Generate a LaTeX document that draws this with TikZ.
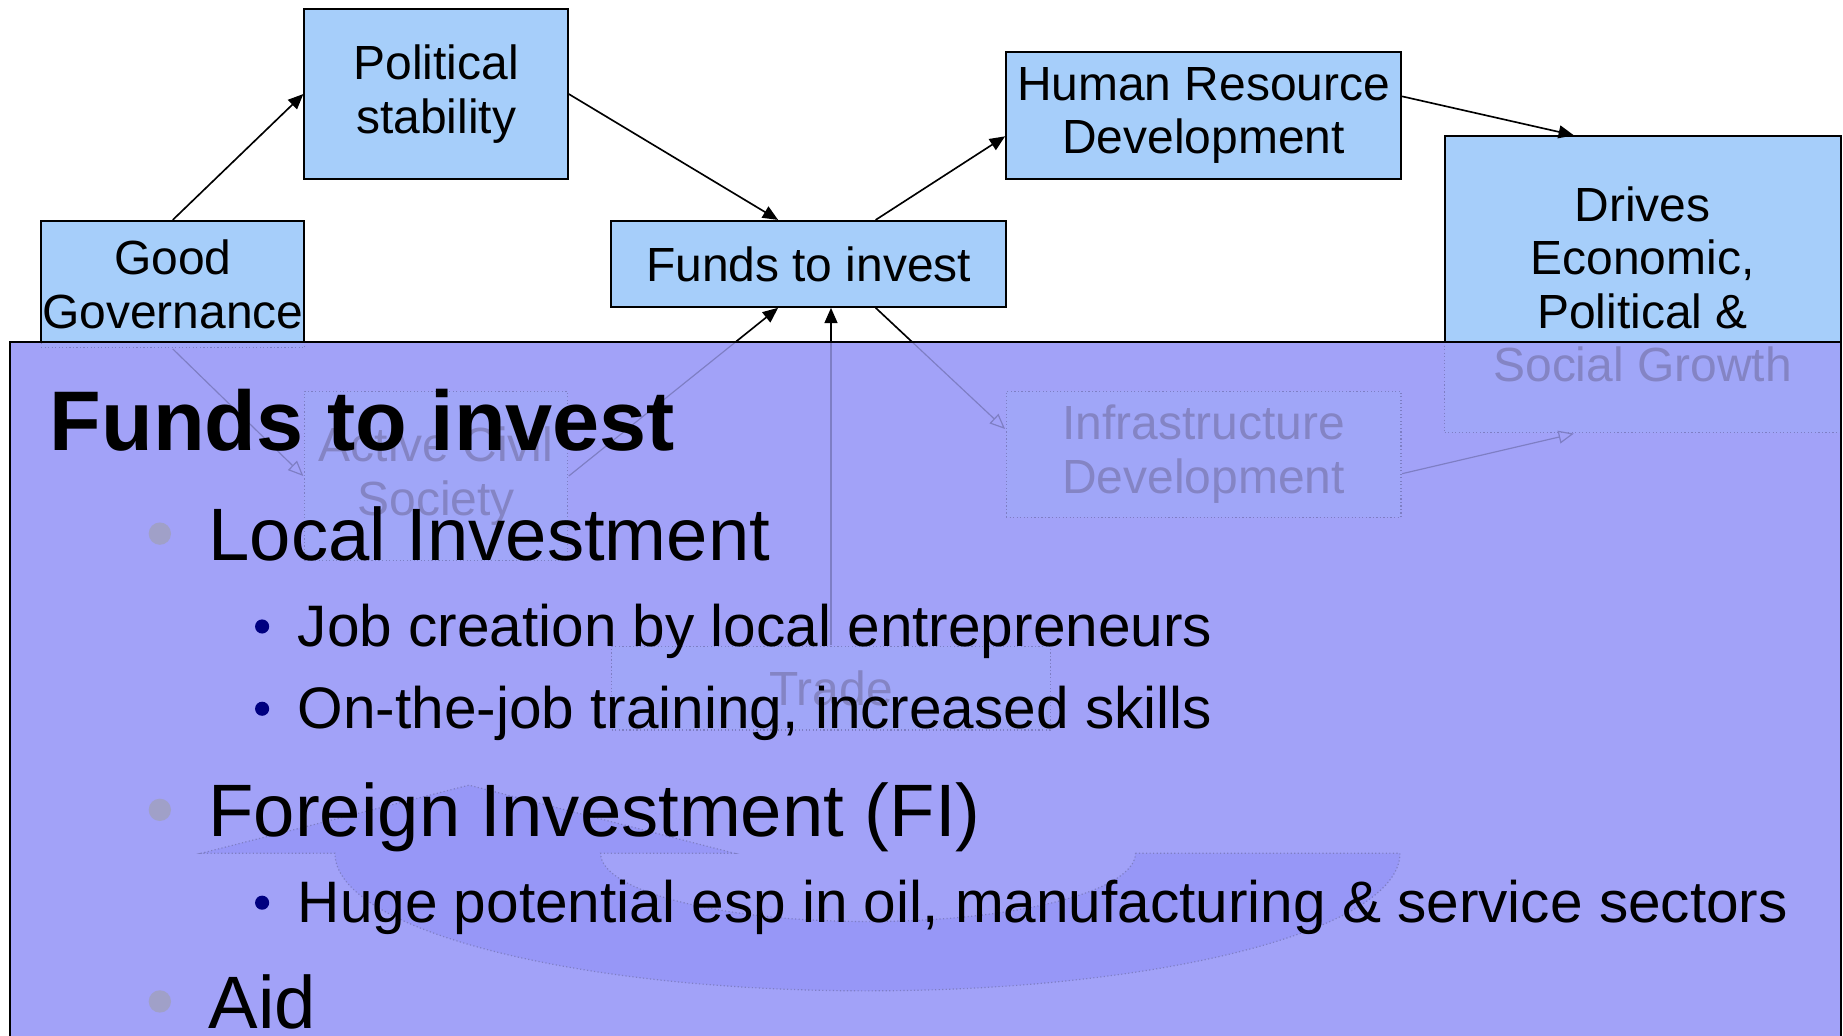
\documentclass[tikz,border=0pt]{standalone}
\usepackage{fontspec}
\setmainfont{Liberation Sans}
\usetikzlibrary{arrows.meta}
\definecolor{topblue}{HTML}{A6CEFA}
\definecolor{overlaycol}{HTML}{A2A2F8}
\definecolor{arrowfill}{HTML}{9797F7}
\definecolor{fadefill}{HTML}{A0A6F8}
\definecolor{fadetext}{HTML}{8484C4}
\definecolor{fadeline}{HTML}{7E7EC4}
\definecolor{bulletgrey}{HTML}{A0A0C8}
\definecolor{bulletnavy}{HTML}{000080}
\tikzset{
  boxfont/.style={font=\fontsize{20.4pt}{22.7pt}\selectfont},
  topbox/.style={boxfont, draw=black, line width=0.9pt, fill=topblue, inner sep=0pt, align=center},
  fadebox/.style={boxfont, draw=fadeline, densely dotted, line width=0.5pt, fill=fadefill, text=fadetext, inner sep=0pt, align=center},
  conn/.style={draw=black, line width=0.7pt, -{Triangle[length=6.5pt,width=5.5pt]}},
  fconn/.style={draw=fadeline, line width=0.5pt, -{Triangle[length=6.5pt,width=5.5pt,open]}},
  bulletA/.style={circle, fill=bulletgrey, inner sep=0pt, minimum size=9.5pt},
  bulletB/.style={circle, fill=bulletnavy, inner sep=0pt, minimum size=6pt},
  lvlA/.style={font=\fontsize{31.6pt}{36pt}\selectfont, inner sep=0pt, anchor=base west},
  lvlB/.style={font=\fontsize{24.9pt}{30pt}\selectfont, inner sep=0pt, anchor=base west},
  titletext/.style={font=\fontsize{36pt}{40pt}\selectfont\bfseries, inner sep=0pt, anchor=base west}
}
\begin{document}
\begin{tikzpicture}[x=0.5pt, y=0.5pt]
\clip (0,0) rectangle (1568,-881);
\fill[white] (0,0) rectangle (1568,-881);

% upper diagram nodes
\node[topbox, minimum width=112pt, minimum height=54pt] (gg) at (147,-242) {Good\\Governance};
\node[topbox, minimum width=112pt, minimum height=72pt] (ps) at (371,-80) {Political\\stability};
\node[topbox, minimum width=168pt, minimum height=36.5pt] (funds) at (688,-224.5) {Funds to invest};
\node[topbox, minimum width=168pt, minimum height=54pt] (hrd) at (1024,-98) {Human Resource\\Development};
\node[topbox, minimum width=168.5pt, minimum height=126pt] (drives) at (1397.5,-242) {Drives\\Economic,\\Political \&\\Social Growth};
\node[topbox, minimum width=112pt, minimum height=72pt] (acs) at (371,-405) {Active Civil\\Society};
\node[topbox, minimum width=168pt, minimum height=53.5pt] (infra) at (1024,-386.5) {Infrastructure\\Development};
\node[topbox, minimum width=186.5pt, minimum height=35.5pt] (trade) at (707,-585.5) {Trade};

% connectors
\draw[conn] (gg.north) -- (ps.west);
\draw[conn] (ps.east) -- ([xshift=-13pt]funds.north);
\draw[conn] ([xshift=28.5pt]funds.north) -- ([yshift=-9pt]hrd.west);
\draw[conn] ([yshift=8pt]hrd.east) -- ([xshift=-29.25pt]drives.north);
\draw[conn] (acs.east) -- ([xshift=-13pt]funds.south);
\draw[conn] (trade.north) -- (trade.north |- funds.south);
\draw[conn] ([xshift=28.5pt]funds.south) -- ([yshift=10.75pt]infra.west);

% overlay panel
\fill[overlaycol] (8.5,-291) rectangle (1566.5,-890);

\begin{scope}
\clip (8.5,-291) rectangle (1566.5,-890);
\filldraw[fill=arrowfill, draw=fadeline, densely dotted, line width=0.5pt]
  (966,-726) -- (1191,-726)
  arc[start angle=0, end angle=-180, x radius=453, y radius=117]
  -- (171,-726) -- (399,-668) -- (625,-726) -- (511,-726)
  arc[start angle=180, end angle=360, x radius=227.5, y radius=58]
  -- cycle;
\node[fadebox, minimum width=112pt, minimum height=54pt] (ggF) at (gg.center) {Good\\Governance};
\node[fadebox, minimum width=168.5pt, minimum height=126pt] (drivesF) at (drives.center) {Drives\\Economic,\\Political \&\\Social Growth};
\node[fadebox, minimum width=112pt, minimum height=72pt] (acsF) at (acs.center) {Active Civil\\Society};
\node[fadebox, minimum width=168pt, minimum height=53.5pt] (infraF) at (infra.center) {Infrastructure\\Development};
\node[fadebox, minimum width=186.5pt, minimum height=35.5pt] (tradeF) at (trade.center) {Trade};
\draw[fconn] (gg.south) -- (acs.west);
\draw[fconn] (acs.east) -- ([xshift=-13pt]funds.south);
\draw[fconn] (trade.north) -- (trade.north |- funds.south);
\draw[fconn] ([xshift=28.5pt]funds.south) -- ([yshift=10.75pt]infra.west);
\draw[fconn] ([yshift=-8.25pt]infra.east) -- ([xshift=-29.25pt]drives.south);
\end{scope}

\draw[black, line width=0.8pt] (8.5,-890) -- (8.5,-291) -- (1566.5,-291) -- (1566.5,-890);

% slide text
\node[titletext] (title) at (42,-383) {Funds to invest};
\node[bulletA] (b1) at (136,-454) {};
\node[lvlA] (t1) at (177,-477) {Local Investment};
\node[bulletB] (b2) at (223,-533) {};
\node[lvlB] (t2) at (253,-550) {Job creation by local entrepreneurs};
\node[bulletB] (b3) at (223,-603) {};
\node[lvlB] (t3) at (253,-620) {On-the-job training, increased skills};
\node[bulletA] (b4) at (136,-689) {};
\node[lvlA] (t4) at (177,-712) {Foreign Investment (FI)};
\node[bulletB] (b5) at (223,-768) {};
\node[lvlB] (t5) at (253,-785) {Huge potential esp in oil, manufacturing \& service sectors};
\node[bulletA] (b6) at (136,-852) {};
\node[lvlA] (t6) at (177,-875) {Aid};
\end{tikzpicture}
\end{document}
